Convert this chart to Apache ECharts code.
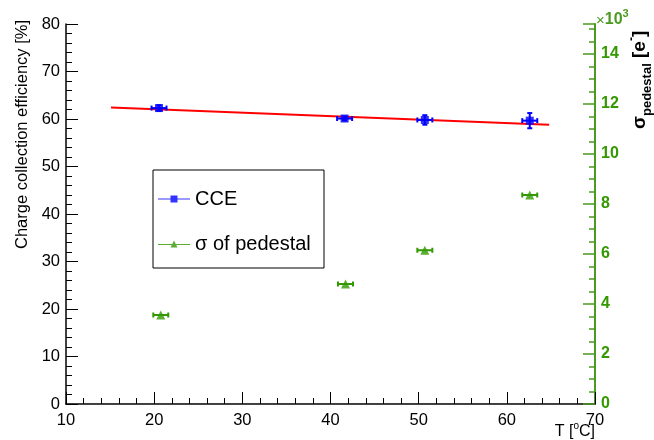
<!DOCTYPE html>
<html>
<head>
<meta charset="utf-8">
<script src="https://cdn.jsdelivr.net/npm/echarts@6/dist/echarts.min.js"></script>
<style>html,body{margin:0;padding:0;background:#fff;}#c{width:654px;height:440px;}</style>
</head>
<body>
<div id="c"></div>
<script>
// ---- data ----
const T_CCE = [20.55, 41.6, 50.7, 62.6];
const CCE = [62.3, 60.1, 59.8, 59.65];
const CCE_XERR = [0.85, 0.85, 0.85, 0.85];
const CCE_YERR = [0.6, 0.4, 1.0, 1.6];
const T_SIG = [20.75, 41.7, 50.7, 62.6];
const SIG = [3.56, 4.8, 6.15, 8.36];
const SIG_XERR = [0.85, 0.85, 0.85, 0.85];
const FIT_T = [15.1, 64.8];
const FIT_Y = [62.4, 58.8];
const X_TICKS = [10, 20, 30, 40, 50, 60, 70];

const BLUE = '#0000ff', GREEN = '#339900', AXGREEN = '#4a9a20', RED = '#ff0000';
const FONT = '"Liberation Sans", Arial, sans-serif';

function errBars(color, showY) {
  return function (params, api) {
    const x = api.value(0), y = api.value(1), ex = api.value(2), ey = api.value(3);
    const c = api.coord([x, y]);
    const l = api.coord([x - ex, y]), r = api.coord([x + ex, y]);
    const st = { stroke: color, lineWidth: 2 };
    const ch = [
      { type: 'line', shape: { x1: l[0], y1: c[1], x2: r[0], y2: c[1] }, style: st },
      { type: 'line', shape: { x1: l[0], y1: c[1] - 2.5, x2: l[0], y2: c[1] + 2.5 }, style: st },
      { type: 'line', shape: { x1: r[0], y1: c[1] - 2.5, x2: r[0], y2: c[1] + 2.5 }, style: st }
    ];
    if (showY && ey > 0) {
      const t = api.coord([x, y + ey]), b = api.coord([x, y - ey]);
      ch.push({ type: 'line', shape: { x1: c[0], y1: t[1], x2: c[0], y2: b[1] }, style: st });
      ch.push({ type: 'line', shape: { x1: c[0] - 2.5, y1: t[1], x2: c[0] + 2.5, y2: t[1] }, style: st });
      ch.push({ type: 'line', shape: { x1: c[0] - 2.5, y1: b[1], x2: c[0] + 2.5, y2: b[1] }, style: st });
    }
    return { type: 'group', children: ch };
  };
}

const chart = echarts.init(document.getElementById('c'), null, { renderer: 'canvas' });
chart.setOption({
  animation: false,
  backgroundColor: '#fff',
  textStyle: { fontFamily: FONT },
  grid: { left: 66, right: 59, top: 24, bottom: 36 },
  xAxis: [{
    type: 'value', min: X_TICKS[0], max: X_TICKS[X_TICKS.length - 1], interval: 10,
    axisLine: { show: true, onZero: false, lineStyle: { color: '#000', width: 1.5 } },
    axisTick: { show: true, inside: true, length: 12, lineStyle: { color: '#000' } },
    minorTick: { show: true, splitNumber: 5, length: 6, lineStyle: { color: '#000' } },
    axisLabel: { color: '#000', fontSize: 16.5, margin: 8, fontFamily: FONT },
    splitLine: { show: false }
  }, {
    type: 'value', position: 'top', min: 10, max: 70,
    axisLine: { show: true, lineStyle: { color: '#444', width: 1.2 } },
    axisTick: { show: false }, axisLabel: { show: false }, splitLine: { show: false }
  }],
  yAxis: [{
    type: 'value', min: 0, max: 80, interval: 10, position: 'left',
    axisLine: { show: true, onZero: false, lineStyle: { color: '#000', width: 1.5 } },
    axisTick: { show: true, inside: true, length: 12, lineStyle: { color: '#000' } },
    minorTick: { show: true, splitNumber: 5, length: 6, lineStyle: { color: '#000' } },
    axisLabel: { color: '#000', fontSize: 16.5, margin: 6, fontFamily: FONT },
    splitLine: { show: false }
  }, {
    type: 'value', min: 0, max: 15.2, interval: 2, position: 'right',
    axisLine: { show: true, onZero: false, lineStyle: { color: AXGREEN, width: 2 } },
    axisTick: { show: true, inside: true, length: 12, lineStyle: { color: AXGREEN, width: 1.5 } },
    minorTick: { show: true, splitNumber: 4, length: 6, lineStyle: { color: AXGREEN, width: 1.5 } },
    axisLabel: { color: GREEN, fontSize: 16, fontWeight: 'bold', margin: 6, showMaxLabel: false, fontFamily: FONT },
    splitLine: { show: false }
  }],
  legend: {
    left: 153, top: 184, orient: 'vertical', itemGap: 25,
    itemWidth: 32, itemHeight: 10,
    textStyle: { fontSize: 20, color: '#000', fontFamily: FONT },
    data: [
      { name: 'CCE', icon: 'path://M0,4.5h32v1h-32z M12.5,1.5h7v7h-7z' },
      { name: 'σ of pedestal', icon: 'path://M0,4.5h32v1h-32z M16,1l3.5,7h-7z' }
    ]
  },
  graphic: [
    { type: 'rect', shape: { x: 153, y: 170, width: 171, height: 98 }, style: { fill: null, stroke: '#000', lineWidth: 1 }, z: 10 },
    { type: 'text', x: 22, y: 20, rotation: Math.PI / 2,
      style: { text: 'Charge collection efficiency [%]', fontSize: 16.5, fontFamily: FONT, fill: '#000', align: 'right', verticalAlign: 'middle' } },
    { type: 'text', x: 640, y: 129, rotation: Math.PI / 2,
      style: { text: '{s|σ}{sub|pedestal}{b| [e}{sup|-}{b|]}', fontFamily: FONT, fill: '#000', align: 'left', verticalAlign: 'middle',
        rich: {
          s: { fontSize: 19, fontWeight: 'bold', fontFamily: FONT, lineHeight: 28, verticalAlign: 'middle' },
          sub: { fontSize: 13, fontWeight: 'bold', fontFamily: FONT, lineHeight: 28, verticalAlign: 'bottom' },
          b: { fontSize: 19, fontWeight: 'bold', fontFamily: FONT, lineHeight: 28, verticalAlign: 'middle' },
          sup: { fontSize: 12, fontWeight: 'bold', fontFamily: FONT, lineHeight: 28, verticalAlign: 'top' }
        } } },
    { type: 'text', x: 596, y: 18,
      style: { text: '{x|×}{n|10}{p|3}', fill: AXGREEN, align: 'left', verticalAlign: 'middle',
        rich: {
          x: { fontSize: 15, fontFamily: FONT, color: AXGREEN, lineHeight: 20, verticalAlign: 'bottom' },
          n: { fontSize: 16, fontWeight: 'bold', fontFamily: FONT, color: GREEN, lineHeight: 20, verticalAlign: 'bottom' },
          p: { fontSize: 11, fontWeight: 'bold', fontFamily: FONT, color: GREEN, lineHeight: 20, verticalAlign: 'top' }
        } } },
    { type: 'text', x: 595, y: 432,
      style: { text: 'T [{p|o}C]', fontSize: 16, fontFamily: FONT, fill: '#000', align: 'right', verticalAlign: 'middle',
        rich: { p: { fontSize: 10, fontFamily: FONT, lineHeight: 22, verticalAlign: 'top' } } } }
  ],
  series: [
    { name: 'fit', type: 'line', xAxisIndex: 0, yAxisIndex: 0, showSymbol: false, symbol: 'none',
      lineStyle: { color: RED, width: 2 }, data: FIT_T.map((t, i) => [t, FIT_Y[i]]), z: 3 },
    { name: 'CCE_err', type: 'custom', xAxisIndex: 0, yAxisIndex: 0, renderItem: errBars(BLUE, true),
      data: T_CCE.map((t, i) => [t, CCE[i], CCE_XERR[i], CCE_YERR[i]]), z: 4 },
    { name: 'CCE', type: 'scatter', xAxisIndex: 0, yAxisIndex: 0, symbol: 'rect', symbolSize: 8,
      itemStyle: { color: BLUE }, data: T_CCE.map((t, i) => [t, CCE[i]]), z: 5 },
    { name: 'SIG_err', type: 'custom', xAxisIndex: 0, yAxisIndex: 1, renderItem: errBars(GREEN, false),
      data: T_SIG.map((t, i) => [t, SIG[i], SIG_XERR[i], 0]), z: 4 },
    { name: 'σ of pedestal', type: 'scatter', xAxisIndex: 0, yAxisIndex: 1, symbol: 'triangle', symbolSize: 9,
      itemStyle: { color: GREEN }, data: T_SIG.map((t, i) => [t, SIG[i]]), z: 5 }
  ]
});
</script>
</body>
</html>
